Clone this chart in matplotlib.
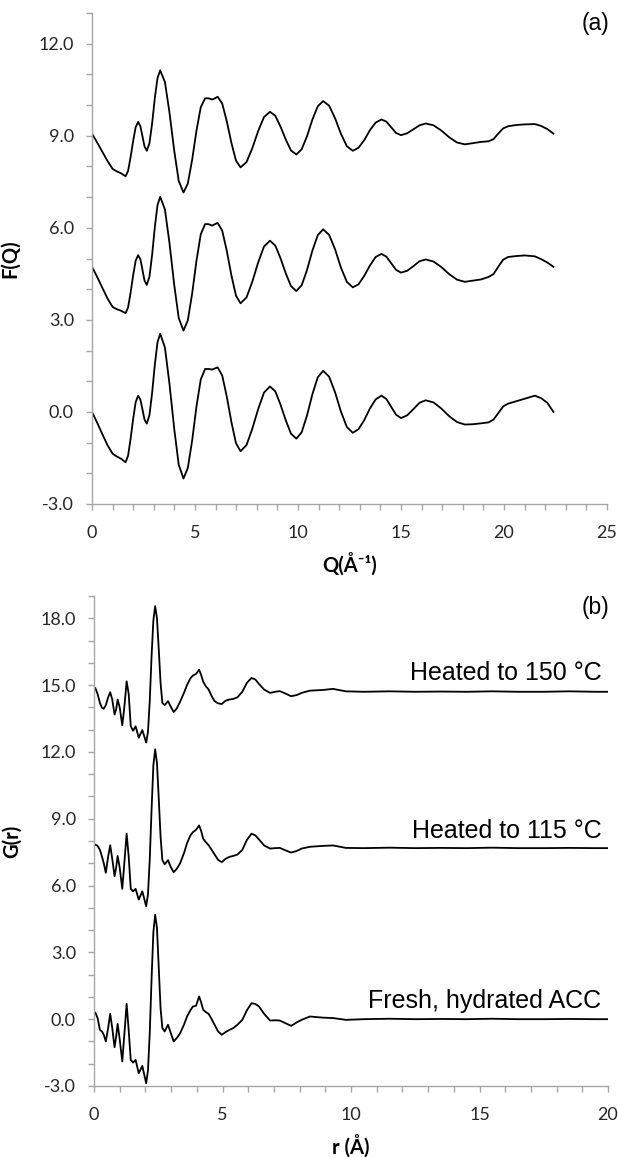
import matplotlib
matplotlib.use("Agg")
import matplotlib.pyplot as plt
from matplotlib.ticker import MultipleLocator, FormatStrFormatter

# ---- panel (a): F(Q), three samples offset vertically ----
q = [0, 0.25, 0.5, 0.75, 1.0, 1.2, 1.4, 1.63, 1.75, 1.87,
     2.0, 2.12, 2.24, 2.35, 2.45, 2.55, 2.66, 2.79, 2.92, 3.05,
     3.18, 3.31, 3.54, 3.76, 3.99, 4.21, 4.44, 4.65, 4.86, 5.07,
     5.28, 5.49, 5.66, 5.83, 5.97, 6.1, 6.32, 6.54, 6.77, 6.99,
     7.21, 7.5, 7.78, 8.07, 8.35, 8.64, 8.9, 9.15, 9.41, 9.66,
     9.92, 10.18, 10.44, 10.7, 10.96, 11.22, 11.51, 11.8, 12.08, 12.37,
     12.66, 12.94, 13.22, 13.49, 13.77, 14.05, 14.29, 14.52, 14.76, 15.0,
     15.3, 15.6, 15.9, 16.2, 16.58, 16.96, 17.34, 17.72, 18.1, 18.5,
     18.9, 19.25, 19.49, 19.72, 19.96, 20.2, 20.6, 21.0, 21.5, 21.8,
     22.1, 22.4]

fq_150 = [9.07, 8.78, 8.48, 8.18, 7.92, 7.84, 7.78, 7.68, 7.85, 8.29,
          8.84, 9.28, 9.45, 9.31, 8.98, 8.65, 8.51, 8.76, 9.41, 10.23,
          10.88, 11.13, 10.75, 9.76, 8.52, 7.53, 7.15, 7.44, 8.21, 9.16,
          9.93, 10.22, 10.22, 10.18, 10.22, 10.27, 10.05, 9.48, 8.76, 8.19,
          7.97, 8.14, 8.59, 9.16, 9.61, 9.78, 9.65, 9.30, 8.87, 8.52,
          8.39, 8.56, 8.99, 9.53, 9.96, 10.13, 9.98, 9.57, 9.07, 8.66,
          8.51, 8.61, 8.86, 9.18, 9.43, 9.53, 9.46, 9.28, 9.09, 9.02,
          9.08, 9.21, 9.34, 9.40, 9.34, 9.17, 8.95, 8.78, 8.72, 8.76,
          8.80, 8.82, 8.89, 9.07, 9.24, 9.31, 9.35, 9.37, 9.38, 9.32,
          9.22, 9.07]

fq_115 = [4.73, 4.40, 4.05, 3.70, 3.42, 3.35, 3.30, 3.22, 3.40, 3.87,
          4.46, 4.93, 5.11, 4.97, 4.63, 4.28, 4.14, 4.41, 5.13, 6.02,
          6.74, 7.01, 6.60, 5.51, 4.15, 3.06, 2.65, 2.98, 3.85, 4.92,
          5.79, 6.12, 6.12, 6.07, 6.12, 6.16, 5.91, 5.26, 4.44, 3.79,
          3.54, 3.73, 4.24, 4.88, 5.39, 5.58, 5.42, 5.01, 4.51, 4.10,
          3.94, 4.13, 4.63, 5.26, 5.76, 5.95, 5.77, 5.30, 4.71, 4.24,
          4.06, 4.16, 4.44, 4.77, 5.05, 5.15, 5.06, 4.85, 4.63, 4.54,
          4.60, 4.75, 4.91, 4.97, 4.90, 4.72, 4.49, 4.31, 4.24, 4.28,
          4.32, 4.40, 4.49, 4.73, 4.96, 5.05, 5.08, 5.10, 5.07, 4.98,
          4.87, 4.73]

fq_fresh = [0.0, -0.35, -0.72, -1.08, -1.36, -1.45, -1.52, -1.64, -1.43, -0.89,
            -0.22, 0.32, 0.53, 0.40, 0.08, -0.25, -0.38, -0.10, 0.63, 1.54,
            2.27, 2.55, 2.10, 0.92, -0.54, -1.72, -2.17, -1.83, -0.94, 0.17,
            1.06, 1.40, 1.40, 1.38, 1.42, 1.45, 1.19, 0.51, -0.34, -1.02,
            -1.28, -1.08, -0.55, 0.10, 0.63, 0.83, 0.67, 0.24, -0.28, -0.71,
            -0.87, -0.66, -0.11, 0.58, 1.13, 1.34, 1.15, 0.64, 0.02, -0.49,
            -0.68, -0.56, -0.26, 0.11, 0.41, 0.53, 0.42, 0.17, -0.09, -0.20,
            -0.11, 0.09, 0.30, 0.38, 0.31, 0.11, -0.14, -0.33, -0.41, -0.40,
            -0.37, -0.34, -0.25, -0.04, 0.18, 0.27, 0.35, 0.43, 0.53, 0.45,
            0.30, 0.0]

# ---- panel (b): G(r) ----
r = [0, 0.05, 0.14, 0.23, 0.31, 0.38, 0.46, 0.55, 0.63, 0.71,
     0.8, 0.86, 0.92, 1.0, 1.1, 1.18, 1.27, 1.35, 1.43, 1.52,
     1.62, 1.74, 1.88, 2.03, 2.1, 2.17, 2.24, 2.31, 2.38, 2.45,
     2.52, 2.59, 2.66, 2.75, 2.88, 2.98, 3.1, 3.22, 3.35, 3.5,
     3.62, 3.75, 3.85, 3.97, 4.09, 4.17, 4.25, 4.35, 4.46, 4.58,
     4.69, 4.83, 4.97, 5.12, 5.27, 5.42, 5.58, 5.77, 5.95, 6.13,
     6.28, 6.42, 6.62, 6.85, 7.05, 7.23, 7.45, 7.67, 7.88, 8.08,
     8.4, 8.9, 9.3, 9.8, 10.5, 11.5, 12.5, 13.5, 14.5, 15.5,
     16.5, 17.5, 18.5, 19.5, 20.0]

gr_150 = [14.80, 14.87, 14.60, 14.20, 13.98, 13.94, 14.10, 14.45, 14.68, 14.35,
          13.68, 13.90, 14.35, 14.00, 13.19, 14.00, 15.17, 14.60, 13.16, 12.95,
          13.15, 12.64, 12.98, 12.42, 12.90, 14.30, 16.30, 17.90, 18.55, 18.00,
          16.60, 15.10, 14.20, 14.10, 14.28, 14.05, 13.79, 13.95, 14.25, 14.65,
          15.00, 15.30, 15.43, 15.50, 15.69, 15.45, 15.15, 14.95, 14.80, 14.50,
          14.28, 14.18, 14.15, 14.30, 14.35, 14.38, 14.45, 14.70, 15.10, 15.32,
          15.25, 15.05, 14.80, 14.65, 14.70, 14.73, 14.62, 14.50, 14.55, 14.65,
          14.75, 14.78, 14.83, 14.72, 14.70, 14.72, 14.70, 14.71, 14.70, 14.72,
          14.70, 14.70, 14.72, 14.70, 14.70]

gr_115 = [7.78, 7.84, 7.78, 7.60, 7.30, 7.00, 6.57, 7.30, 7.81, 7.20,
          6.42, 6.80, 7.33, 6.80, 5.85, 7.00, 8.33, 7.30, 5.85, 5.74,
          5.85, 5.37, 5.74, 5.07, 5.60, 7.20, 9.40, 11.40, 12.12, 11.50,
          9.90, 8.20, 7.15, 6.95, 7.14, 6.85, 6.60, 6.75, 7.00, 7.45,
          7.90, 8.25, 8.40, 8.50, 8.70, 8.45, 8.10, 7.95, 7.81, 7.60,
          7.40, 7.15, 7.05, 7.20, 7.29, 7.33, 7.39, 7.60, 8.05, 8.33,
          8.25, 8.07, 7.80, 7.66, 7.68, 7.69, 7.58, 7.48, 7.55, 7.66,
          7.74, 7.78, 7.80, 7.69, 7.68, 7.70, 7.68, 7.69, 7.68, 7.70,
          7.68, 7.68, 7.69, 7.68, 7.68]

gr_fresh = [0.20, 0.30, 0.05, -0.48, -0.55, -0.70, -1.00, -0.40, 0.24, -0.40,
            -1.26, -0.80, -0.21, -0.90, -1.90, -0.70, 0.69, -0.50, -1.83, -1.95,
            -1.83, -2.43, -2.10, -2.88, -2.30, -0.60, 1.80, 3.90, 4.69, 4.10,
            2.30, 0.50, -0.40, -0.55, -0.25, -0.60, -1.00, -0.85, -0.63, -0.25,
            0.12, 0.40, 0.57, 0.60, 1.02, 0.75, 0.42, 0.32, 0.24, 0.00,
            -0.25, -0.55, -0.70, -0.58, -0.48, -0.40, -0.25, -0.03, 0.40, 0.72,
            0.68, 0.57, 0.24, -0.06, -0.05, -0.06, -0.18, -0.30, -0.15, -0.03,
            0.12, 0.07, 0.05, -0.03, 0.00, 0.02, 0.00, 0.01, 0.00, 0.02,
            0.00, 0.00, 0.01, 0.00, 0.00]

labels_b = ["Heated to 150 \u00b0C", "Heated to 115 \u00b0C", "Fresh, hydrated ACC"]
label_y = [15.25, 8.15, 0.5]

AXIS_GREY = "#a6a6a6"
TICK_FONT = ["Lato", "DejaVu Sans"]


def style_axes(ax):
    for side in ("top", "right"):
        ax.spines[side].set_visible(False)
    for side in ("left", "bottom"):
        ax.spines[side].set_color(AXIS_GREY)
        ax.spines[side].set_linewidth(1.0)
    ax.tick_params(which="both", direction="out", length=4, width=1.0,
                   color=AXIS_GREY, labelsize=13, labelcolor="#262626")
    ax.tick_params(axis="x", which="both", pad=11)
    ax.tick_params(axis="y", which="both", pad=9)
    ax.yaxis.set_major_formatter(FormatStrFormatter("%.1f"))
    ax.yaxis.set_major_locator(MultipleLocator(3))
    ax.yaxis.set_minor_locator(MultipleLocator(1))
    ax.xaxis.set_major_locator(MultipleLocator(5))
    ax.xaxis.set_minor_locator(MultipleLocator(1))
    for lab in ax.get_xticklabels() + ax.get_yticklabels():
        lab.set_family(TICK_FONT)


fig = plt.figure(figsize=(6.18, 11.57), dpi=100)

ax_a = fig.add_axes([92 / 618, 1 - 504 / 1157, 515 / 618, 491 / 1157])
for fq in (fq_150, fq_115, fq_fresh):
    ax_a.plot(q, fq, color="black", lw=1.3)
ax_a.set_xlim(0, 25)
ax_a.set_ylim(-3, 13)
style_axes(ax_a)
ax_a.set_ylabel("F(Q)", fontsize=14.5, fontweight="bold", family=TICK_FONT, labelpad=13)
ax_a.set_xlabel("Q(\u00c5\u207b\u00b9)", fontsize=14.5, fontweight="bold", family=TICK_FONT, labelpad=8)
ax_a.text(0.977, 0.978, "(a)", transform=ax_a.transAxes, ha="center", va="center",
          fontsize=16.5, family="Liberation Sans")

ax_b = fig.add_axes([94 / 618, 1 - 1086 / 1157, 514 / 618, 490 / 1157])
for gr in (gr_150, gr_115, gr_fresh):
    ax_b.plot(r, gr, color="black", lw=1.3)
ax_b.set_xlim(0, 20)
ax_b.set_ylim(-3, 19)
style_axes(ax_b)
ax_b.set_ylabel("G(r)", fontsize=14.5, fontweight="bold", family=TICK_FONT, labelpad=13)
ax_b.set_xlabel("r (\u00c5)", fontsize=14.5, fontweight="bold", family=TICK_FONT, labelpad=8)
ax_b.text(0.975, 0.976, "(b)", transform=ax_b.transAxes, ha="center", va="center",
          fontsize=16.5, family="Liberation Sans")
for txt, yy in zip(labels_b, label_y):
    ax_b.text(19.75, yy, txt, ha="right", va="baseline", fontsize=18,
              family="Liberation Sans")

fig.savefig("out.png", dpi=100)
